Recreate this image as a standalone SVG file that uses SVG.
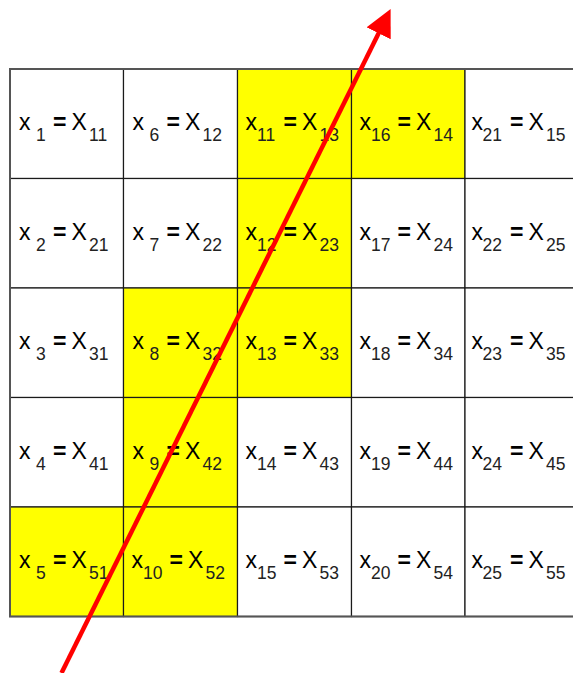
<svg xmlns="http://www.w3.org/2000/svg" width="573" height="673" viewBox="0 0 573 673">
<style>
.c{fill:#ffffff;stroke:#1a1a1a;stroke-width:1.2}
.y{fill:#ffff00;stroke:#1a1a1a;stroke-width:1.2}
.m{font-family:"Liberation Sans",Arial,sans-serif;font-size:23px;fill:#000}
.s{font-size:17.5px;fill:#222}
.e{font-weight:bold}
.frame{fill:none;stroke:#555;stroke-width:2}
.arrow{stroke:#ff0000;stroke-width:4.5;fill:none}
</style>
<defs>
<marker id="ah" markerUnits="userSpaceOnUse" viewBox="0 0 27 27" markerWidth="27" markerHeight="27" refX="2" refY="13.5" orient="auto">
<path d="M0,0 L27,13.5 L0,27 Z" fill="#ff0000"/>
</marker>
</defs>
<rect width="573" height="673" fill="#ffffff"/>
<g id="cells">
<g id="n-1-1" transform="translate(10,69)"><rect class="c" width="113.5" height="109.5"/><text class="m" y="61"><tspan x="9">x</tspan><tspan class="s" x="26" y="72">1</tspan><tspan class="e" x="43" y="61">=</tspan><tspan x="61.5">X</tspan><tspan class="s" x="79" y="72">11</tspan></text></g>
<g id="n-2-1" transform="translate(10,178.5)"><rect class="c" width="113.5" height="109.5"/><text class="m" y="61"><tspan x="9">x</tspan><tspan class="s" x="26" y="72">2</tspan><tspan class="e" x="43" y="61">=</tspan><tspan x="61.5">X</tspan><tspan class="s" x="79" y="72">21</tspan></text></g>
<g id="n-3-1" transform="translate(10,288)"><rect class="c" width="113.5" height="109.5"/><text class="m" y="61"><tspan x="9">x</tspan><tspan class="s" x="26" y="72">3</tspan><tspan class="e" x="43" y="61">=</tspan><tspan x="61.5">X</tspan><tspan class="s" x="79" y="72">31</tspan></text></g>
<g id="n-4-1" transform="translate(10,397.5)"><rect class="c" width="113.5" height="109.5"/><text class="m" y="61"><tspan x="9">x</tspan><tspan class="s" x="26" y="72">4</tspan><tspan class="e" x="43" y="61">=</tspan><tspan x="61.5">X</tspan><tspan class="s" x="79" y="72">41</tspan></text></g>
<g id="n-5-1" transform="translate(10,507)"><rect class="y" width="113.5" height="109.5"/><text class="m" y="61"><tspan x="9">x</tspan><tspan class="s" x="26" y="72">5</tspan><tspan class="e" x="43" y="61">=</tspan><tspan x="61.5">X</tspan><tspan class="s" x="79" y="72">51</tspan></text></g>

<g id="n-1-2" transform="translate(123.5,69)"><rect class="c" width="114" height="109.5"/><text class="m" y="61"><tspan x="9">x</tspan><tspan class="s" x="26" y="72">6</tspan><tspan class="e" x="43" y="61">=</tspan><tspan x="61.5">X</tspan><tspan class="s" x="79" y="72">12</tspan></text></g>
<g id="n-2-2" transform="translate(123.5,178.5)"><rect class="c" width="114" height="109.5"/><text class="m" y="61"><tspan x="9">x</tspan><tspan class="s" x="26" y="72">7</tspan><tspan class="e" x="43" y="61">=</tspan><tspan x="61.5">X</tspan><tspan class="s" x="79" y="72">22</tspan></text></g>
<g id="n-3-2" transform="translate(123.5,288)"><rect class="y" width="114" height="109.5"/><text class="m" y="61"><tspan x="9">x</tspan><tspan class="s" x="26" y="72">8</tspan><tspan class="e" x="43" y="61">=</tspan><tspan x="61.5">X</tspan><tspan class="s" x="79" y="72">32</tspan></text></g>
<g id="n-4-2" transform="translate(123.5,397.5)"><rect class="y" width="114" height="109.5"/><text class="m" y="61"><tspan x="9">x</tspan><tspan class="s" x="26" y="72">9</tspan><tspan class="e" x="43" y="61">=</tspan><tspan x="61.5">X</tspan><tspan class="s" x="79" y="72">42</tspan></text></g>
<g id="n-5-2" transform="translate(123.5,507)"><rect class="y" width="114" height="109.5"/><text class="m" y="61"><tspan x="8">x</tspan><tspan class="s" x="19.5" y="72">10</tspan><tspan class="e" x="46" y="61">=</tspan><tspan x="64.5">X</tspan><tspan class="s" x="82" y="72">52</tspan></text></g>

<g id="n-1-3" transform="translate(237.5,69)"><rect class="y" width="114" height="109.5"/><text class="m" y="61"><tspan x="8">x</tspan><tspan class="s" x="19.5" y="72">11</tspan><tspan class="e" x="46" y="61">=</tspan><tspan x="64.5">X</tspan><tspan class="s" x="82" y="72">13</tspan></text></g>
<g id="n-2-3" transform="translate(237.5,178.5)"><rect class="y" width="114" height="109.5"/><text class="m" y="61"><tspan x="8">x</tspan><tspan class="s" x="19.5" y="72">12</tspan><tspan class="e" x="46" y="61">=</tspan><tspan x="64.5">X</tspan><tspan class="s" x="82" y="72">23</tspan></text></g>
<g id="n-3-3" transform="translate(237.5,288)"><rect class="y" width="114" height="109.5"/><text class="m" y="61"><tspan x="8">x</tspan><tspan class="s" x="19.5" y="72">13</tspan><tspan class="e" x="46" y="61">=</tspan><tspan x="64.5">X</tspan><tspan class="s" x="82" y="72">33</tspan></text></g>
<g id="n-4-3" transform="translate(237.5,397.5)"><rect class="c" width="114" height="109.5"/><text class="m" y="61"><tspan x="8">x</tspan><tspan class="s" x="19.5" y="72">14</tspan><tspan class="e" x="46" y="61">=</tspan><tspan x="64.5">X</tspan><tspan class="s" x="82" y="72">43</tspan></text></g>
<g id="n-5-3" transform="translate(237.5,507)"><rect class="c" width="114" height="109.5"/><text class="m" y="61"><tspan x="8">x</tspan><tspan class="s" x="19.5" y="72">15</tspan><tspan class="e" x="46" y="61">=</tspan><tspan x="64.5">X</tspan><tspan class="s" x="82" y="72">53</tspan></text></g>

<g id="n-1-4" transform="translate(351.5,69)"><rect class="y" width="113.5" height="109.5"/><text class="m" y="61"><tspan x="8">x</tspan><tspan class="s" x="19.5" y="72">16</tspan><tspan class="e" x="46" y="61">=</tspan><tspan x="64.5">X</tspan><tspan class="s" x="82" y="72">14</tspan></text></g>
<g id="n-2-4" transform="translate(351.5,178.5)"><rect class="c" width="113.5" height="109.5"/><text class="m" y="61"><tspan x="8">x</tspan><tspan class="s" x="19.5" y="72">17</tspan><tspan class="e" x="46" y="61">=</tspan><tspan x="64.5">X</tspan><tspan class="s" x="82" y="72">24</tspan></text></g>
<g id="n-3-4" transform="translate(351.5,288)"><rect class="c" width="113.5" height="109.5"/><text class="m" y="61"><tspan x="8">x</tspan><tspan class="s" x="19.5" y="72">18</tspan><tspan class="e" x="46" y="61">=</tspan><tspan x="64.5">X</tspan><tspan class="s" x="82" y="72">34</tspan></text></g>
<g id="n-4-4" transform="translate(351.5,397.5)"><rect class="c" width="113.5" height="109.5"/><text class="m" y="61"><tspan x="8">x</tspan><tspan class="s" x="19.5" y="72">19</tspan><tspan class="e" x="46" y="61">=</tspan><tspan x="64.5">X</tspan><tspan class="s" x="82" y="72">44</tspan></text></g>
<g id="n-5-4" transform="translate(351.5,507)"><rect class="c" width="113.5" height="109.5"/><text class="m" y="61"><tspan x="8">x</tspan><tspan class="s" x="19.5" y="72">20</tspan><tspan class="e" x="46" y="61">=</tspan><tspan x="64.5">X</tspan><tspan class="s" x="82" y="72">54</tspan></text></g>

<g id="n-1-5" transform="translate(465,69)"><rect class="c" width="114" height="109.5"/><text class="m" y="61"><tspan x="6.5">x</tspan><tspan class="s" x="17.5" y="72">21</tspan><tspan class="e" x="45" y="61">=</tspan><tspan x="63.5">X</tspan><tspan class="s" x="81" y="72">15</tspan></text></g>
<g id="n-2-5" transform="translate(465,178.5)"><rect class="c" width="114" height="109.5"/><text class="m" y="61"><tspan x="6.5">x</tspan><tspan class="s" x="17.5" y="72">22</tspan><tspan class="e" x="45" y="61">=</tspan><tspan x="63.5">X</tspan><tspan class="s" x="81" y="72">25</tspan></text></g>
<g id="n-3-5" transform="translate(465,288)"><rect class="c" width="114" height="109.5"/><text class="m" y="61"><tspan x="6.5">x</tspan><tspan class="s" x="17.5" y="72">23</tspan><tspan class="e" x="45" y="61">=</tspan><tspan x="63.5">X</tspan><tspan class="s" x="81" y="72">35</tspan></text></g>
<g id="n-4-5" transform="translate(465,397.5)"><rect class="c" width="114" height="109.5"/><text class="m" y="61"><tspan x="6.5">x</tspan><tspan class="s" x="17.5" y="72">24</tspan><tspan class="e" x="45" y="61">=</tspan><tspan x="63.5">X</tspan><tspan class="s" x="81" y="72">45</tspan></text></g>
<g id="n-5-5" transform="translate(465,507)"><rect class="c" width="114" height="109.5"/><text class="m" y="61"><tspan x="6.5">x</tspan><tspan class="s" x="17.5" y="72">25</tspan><tspan class="e" x="45" y="61">=</tspan><tspan x="63.5">X</tspan><tspan class="s" x="81" y="72">55</tspan></text></g>
</g>
<rect id="frame" class="frame" x="10" y="69" width="569" height="547.5"/>
<g id="connectors">
<line class="arrow" x1="61.5" y1="673" x2="379.5" y2="31.5" marker-end="url(#ah)"/>
</g>
</svg>
